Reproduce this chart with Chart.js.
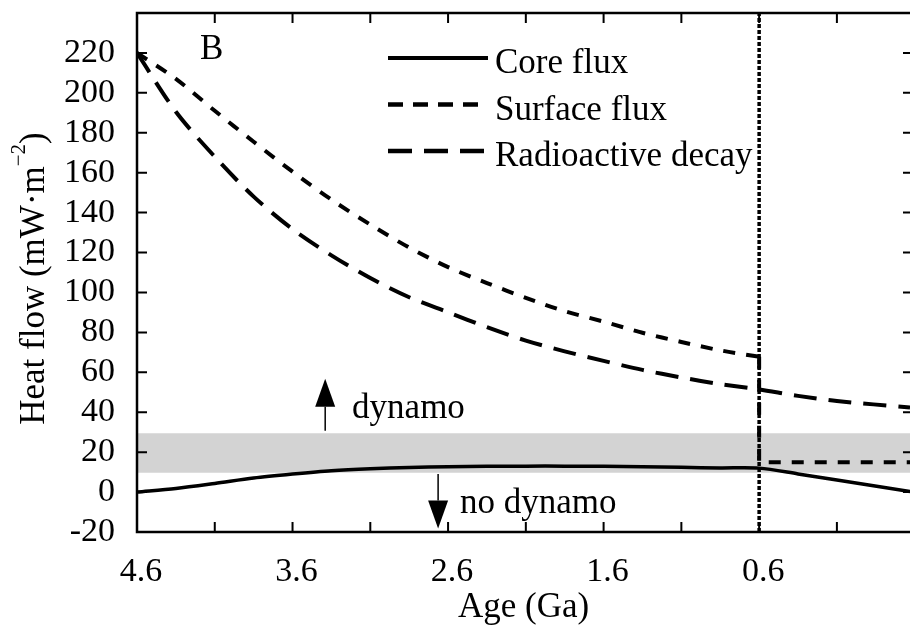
<!DOCTYPE html>
<html lang="en">
<head>
<meta charset="UTF-8">
<title>Heat flow vs age</title>
<script src="https://cdn.jsdelivr.net/npm/chart.js"></script>
<style>
  html, body { margin:0; padding:0; background:#fff; overflow:hidden; }
</style>
</head>
<body>
<canvas id="heatChart" width="910" height="630"></canvas>
<script>
// ---- values (age in Ga, heat flow in mW/m2) ----
const ages = [4.6, 4.35, 4.1, 3.85, 3.6, 3.35, 3.1, 2.85, 2.6, 2.35, 2.1, 1.85, 1.6, 1.35, 1.1, 0.85, 0.6, 0.35, 0.1, -0.37];
const coreFlux = [0, 1.8, 4.3, 7.0, 9.0, 10.7, 11.7, 12.3, 12.7, 12.9, 13, 13, 12.9, 12.7, 12.4, 12.1, 12, 9.1, 6.0, 0.3];
const radioFlux = [220, 190.5, 168, 148, 131.7, 118.6, 107.2, 97.6, 90.1, 82.6, 75.9, 70.5, 65.7, 61.2, 57.4, 54.1, 51.4, 48.2, 45.6, 42.4];
const surfaceAges = [4.6, 4.35, 4.1, 3.85, 3.6, 3.35, 3.1, 2.85, 2.6, 2.35, 2.1, 1.85, 1.6, 1.35, 1.1, 0.85, 0.6];
const surfaceFlux = [220, 207, 191, 175.5, 160.5, 146.5, 134, 122.5, 112.7, 104.7, 97.3, 90.6, 85.4, 79.8, 75.2, 71, 67.8];
const surfaceLateAges = [0.6, 0.6, -0.37];
const surfaceLateFlux = [67.8, 15, 15];

// grey "dynamo threshold" band and the 0.6 Ga marker
const bandAges = [4.6, -0.37];
const bandLow = [9.7, 9.7];
const bandHigh = [29.5, 29.5];
const markerAges = [0.6, 0.6];
const markerFlux = [-20, 240];

// axes
const xMin = -0.37, xMax = 4.6;
const yMin = -20, yMax = 240;
const xTicks = [4.6, 4.1, 3.6, 3.1, 2.6, 2.1, 1.6, 1.1, 0.6, 0.1];
const xTickLabels = ['4.6', '', '3.6', '', '2.6', '', '1.6', '', '0.6', ''];
const yTicks = [-20, 0, 20, 40, 60, 80, 100, 120, 140, 160, 180, 200, 220, 240];
const yTickLabels = ['-20', '0', '20', '40', '60', '80', '100', '120', '140', '160', '180', '200', '220', ''];

// annotations (data coordinates)
const notes = [
  { text: 'B', x: 4.195, y: 217 },
  { text: 'dynamo', x: 3.217, y: 37.2 },
  { text: 'no dynamo', x: 2.523, y: -10.7 }
];
const arrows = [
  { x: 3.39, from: 30.7, to: 56.8 },
  { x: 2.664, from: 9, to: -18.2 }
];

const SERIF = '"Liberation Serif", "Times New Roman", serif';
const pts = (xs, ys) => xs.map((x, i) => ({ x: x, y: ys[i] }));

// frame + inward tick marks
const frame = {
  id: 'frame',
  afterDatasetsDraw(chart) {
    const { ctx, chartArea: a, scales: { x, y } } = chart;
    ctx.save();
    ctx.strokeStyle = '#000';
    ctx.lineWidth = 2.5;
    ctx.beginPath();
    ctx.moveTo(a.right + 2, a.top); ctx.lineTo(a.left, a.top);
    ctx.lineTo(a.left, a.bottom); ctx.lineTo(a.right + 2, a.bottom);
    ctx.stroke();
    ctx.lineWidth = 2;
    ctx.beginPath();
    xTicks.forEach(v => {
      const px = x.getPixelForValue(v);
      ctx.moveTo(px, a.bottom); ctx.lineTo(px, a.bottom - 10);
      ctx.moveTo(px, a.top); ctx.lineTo(px, a.top + 10);
    });
    yTicks.forEach(v => {
      const py = y.getPixelForValue(v);
      ctx.moveTo(a.left, py); ctx.lineTo(a.left + 10, py);
      ctx.moveTo(a.right, py); ctx.lineTo(a.right - 7, py);
    });
    ctx.stroke();
    ctx.restore();
  }
};

// legend drawn top-centre like the original
const legendBox = {
  id: 'legendBox',
  afterDraw(chart) {
    const ctx = chart.ctx;
    ctx.save();
    ctx.font = '35px ' + SERIF;
    ctx.fillStyle = '#000';
    ctx.strokeStyle = '#000';
    chart.data.datasets.forEach(ds => {
      if (ds.legendRow === undefined) return;
      const yy = 58 + ds.legendRow * 46.5;
      ctx.lineWidth = ds.borderWidth + 0.5;
      ctx.setLineDash(ds.legendDash || []);
      ctx.beginPath();
      ctx.moveTo(388, yy); ctx.lineTo(488, yy);
      ctx.stroke();
      ctx.setLineDash([]);
      ctx.fillText(ds.label, 495, yy + 15);
    });
    ctx.restore();
  }
};

// text notes, arrows and the y title with its superscript
const extras = {
  id: 'extras',
  afterDraw(chart) {
    const { ctx, chartArea: a, scales: { x, y } } = chart;
    ctx.save();
    ctx.fillStyle = '#000';
    ctx.strokeStyle = '#000';
    ctx.font = '35px ' + SERIF;
    ctx.textBaseline = 'alphabetic';
    notes.forEach(n => ctx.fillText(n.text, x.getPixelForValue(n.x), y.getPixelForValue(n.y)));

    arrows.forEach(ar => {
      const px = x.getPixelForValue(ar.x);
      const p0 = y.getPixelForValue(ar.from);
      const p1 = y.getPixelForValue(ar.to);
      const dir = p1 < p0 ? -1 : 1;
      const head = 28;
      ctx.lineWidth = 1.5;
      ctx.beginPath();
      ctx.moveTo(px, p0); ctx.lineTo(px, p1 - dir * head);
      ctx.stroke();
      ctx.beginPath();
      ctx.moveTo(px, p1);
      ctx.lineTo(px - 10, p1 - dir * head);
      ctx.lineTo(px + 10, p1 - dir * head);
      ctx.closePath();
      ctx.fill();
    });

    // y title: Heat flow (mW·m^-2)
    const main = '35px ' + SERIF, sup = '21px ' + SERIF;
    const t1 = 'Heat flow (mW·m', t2 = '\u22122', t3 = ')';
    ctx.font = main;
    const w1 = ctx.measureText(t1).width, w3 = ctx.measureText(t3).width;
    ctx.font = sup;
    const w2 = ctx.measureText(t2).width;
    ctx.translate(44, (a.top + a.bottom) / 2 + 6);
    ctx.rotate(-Math.PI / 2);
    let cx = -(w1 + w2 + w3) / 2;
    ctx.font = main; ctx.fillText(t1, cx, 0); cx += w1;
    ctx.font = sup; ctx.fillText(t2, cx, -19); cx += w2;
    ctx.font = main; ctx.fillText(t3, cx, 0);
    ctx.restore();
  }
};

new Chart(document.getElementById('heatChart'), {
  type: 'line',
  data: {
    datasets: [
      {
        label: 'Core flux', legendRow: 0,
        data: pts(ages, coreFlux),
        borderColor: '#000', borderWidth: 3.5, tension: 0.3, order: 1
      },
      {
        label: 'Surface flux', legendRow: 1, legendDash: [15, 10],
        data: pts(surfaceAges, surfaceFlux),
        borderColor: '#000', borderWidth: 4, borderDash: [12, 11], tension: 0.3, order: 1
      },
      {
        label: 'Surface flux late',
        data: pts(surfaceLateAges, surfaceLateFlux),
        borderColor: '#000', borderWidth: 4, borderDash: [12, 11], tension: 0, order: 1
      },
      {
        label: 'Radioactive decay', legendRow: 2, legendDash: [24, 12],
        data: pts(ages, radioFlux),
        borderColor: '#000', borderWidth: 4, borderDash: [23, 12], tension: 0.3, order: 1
      },
      {
        label: 'band high',
        data: pts(bandAges, bandHigh),
        borderWidth: 0, borderColor: 'rgba(0,0,0,0)',
        backgroundColor: '#d3d3d3', fill: '+1', order: 10
      },
      {
        label: 'band low',
        data: pts(bandAges, bandLow),
        borderWidth: 0, borderColor: 'rgba(0,0,0,0)', fill: false, order: 10
      },
      {
        label: 'marker',
        data: pts(markerAges, markerFlux),
        borderColor: '#000', borderWidth: 3.5, borderDash: [4, 2], order: 0
      }
    ]
  },
  options: {
    responsive: false,
    animation: false,
    layout: { padding: { top: 13, right: 0, bottom: 0, left: 0 } },
    elements: { point: { radius: 0 } },
    plugins: { legend: { display: false }, tooltip: { enabled: false } },
    scales: {
      x: {
        type: 'linear', reverse: true, min: xMin, max: xMax,
        afterBuildTicks: s => { s.ticks = xTicks.map(v => ({ value: v })); },
        afterFit: s => { s.height = 98; s.paddingLeft = 0; s.paddingRight = 0; },
        grid: { display: false, drawTicks: false },
        border: { display: false },
        ticks: {
          color: '#000', padding: 20, labelOffset: 4, autoSkip: false, maxRotation: 0,
          font: { family: SERIF, size: 34 },
          callback: v => xTickLabels[xTicks.indexOf(v)]
        },
        title: {
          display: true, text: 'Age (Ga)', color: '#000',
          font: { family: SERIF, size: 35 }, padding: { top: 0, bottom: 1 }
        }
      },
      y: {
        min: yMin, max: yMax,
        afterBuildTicks: s => { s.ticks = yTicks.map(v => ({ value: v })); },
        afterFit: s => { s.width = 137; s.paddingTop = 0; s.paddingBottom = 0; },
        grid: { display: false, drawTicks: false },
        border: { display: false },
        ticks: {
          color: '#000', padding: 22, autoSkip: false,
          font: { family: SERIF, size: 34 },
          callback: v => yTickLabels[yTicks.indexOf(v)]
        }
      }
    }
  },
  plugins: [frame, legendBox, extras]
});
</script>
</body>
</html>
